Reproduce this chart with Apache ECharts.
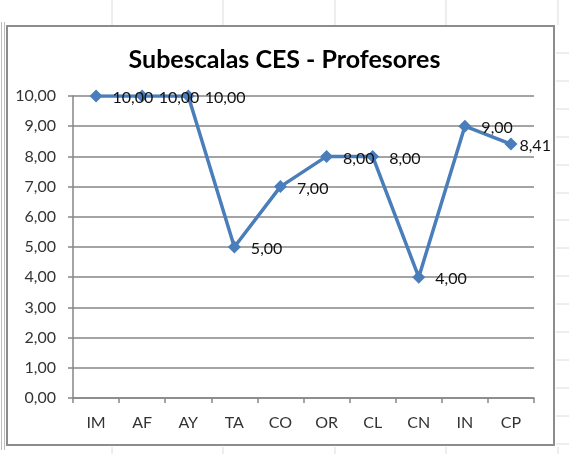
<!DOCTYPE html>
<html>
<head>
<meta charset="UTF-8">
<script src="https://cdn.jsdelivr.net/npm/echarts@6/dist/echarts.min.js"></script>
<style>
body { margin:0; padding:0; background:#fff; }
#chart { width:569px; height:454px; }
</style>
</head>
<body><div id="chart"></div>
<script>
// data
var categories = ['IM', 'AF', 'AY', 'TA', 'CO', 'OR', 'CL', 'CN', 'IN', 'CP'];
var scores = [10, 10, 10, 5, 7, 8, 8, 4, 9, 8.41];
var yTicks = [0, 1, 2, 3, 4, 5, 6, 7, 8, 9, 10];

var fmt = function (v) { return v.toFixed(2).replace('.', ','); };

// spreadsheet cell lines behind the chart (decoration only)
var cellLines = [];
[112, 223, 335, 446, 558].forEach(function (x) {
  cellLines.push({ type: 'line', shape: { x1: x, y1: 0, x2: x, y2: 25 }, style: { stroke: '#dcdcdc', lineWidth: 1 }, z: -10 });
  cellLines.push({ type: 'line', shape: { x1: x, y1: 447, x2: x, y2: 454 }, style: { stroke: '#dcdcdc', lineWidth: 1 }, z: -10 });
});
for (var y = 53; y < 454; y += 27.9) {
  cellLines.push({ type: 'line', shape: { x1: 556, y1: Math.round(y), x2: 569, y2: Math.round(y) }, style: { stroke: '#dcdcdc', lineWidth: 1 }, z: -10 });
}

// last label sits tight against its marker, like the original
var points = scores.map(function (v, i) {
  if (i === scores.length - 1) return { value: v, label: { distance: 2 } };
  return v;
});

var c = echarts.init(document.getElementById('chart'));
c.setOption({
  animation: false,
  backgroundColor: '#fff',
  title: {
    text: 'Subescalas CES - Profesores',
    left: 'center',
    top: 42,
    textStyle: { fontFamily: 'Lato', fontWeight: 'bold', fontSize: 25, color: '#000' }
  },
  graphic: cellLines.concat([
    { type: 'rect', shape: { x: 7, y: 26, width: 547, height: 419 }, style: { fill: 'none', stroke: '#8c8c8c', lineWidth: 2 }, z: 10 },
    { type: 'line', shape: { x1: 1.5, y1: 22, x2: 1.5, y2: 450 }, style: { stroke: '#bdbdbd', lineWidth: 1 }, z: 10 },
    { type: 'line', shape: { x1: 4.5, y1: 22, x2: 4.5, y2: 450 }, style: { stroke: '#bdbdbd', lineWidth: 1 }, z: 10 }
  ]),
  grid: { left: 73, right: 35, top: 96, bottom: 56 },
  xAxis: {
    type: 'category',
    data: categories,
    boundaryGap: true,
    axisLine: { lineStyle: { color: '#868686', width: 1.5 } },
    axisTick: { show: true, length: 5, interval: 0, lineStyle: { color: '#868686', width: 1.5 } },
    axisLabel: { margin: 17, fontFamily: 'Lato', fontSize: 16, color: '#333' }
  },
  yAxis: {
    type: 'value',
    min: yTicks[0],
    max: yTicks[yTicks.length - 1],
    interval: 1,
    axisLine: { show: true, lineStyle: { color: '#868686', width: 1.5 } },
    axisTick: { show: true, length: 5, lineStyle: { color: '#868686', width: 1.5 } },
    splitLine: { lineStyle: { color: '#868686', width: 1.5 } },
    axisLabel: { margin: 17, fontFamily: 'Lato', fontSize: 16, color: '#333', formatter: fmt }
  },
  series: [{
    type: 'line',
    data: points,
    symbol: 'diamond',
    symbolSize: 13,
    lineStyle: { color: '#4a7ebb', width: 3.5 },
    itemStyle: { color: '#4a7ebb' },
    label: {
      show: true,
      position: 'right',
      distance: 10,
      offset: [0, 2],
      fontFamily: 'Lato',
      fontSize: 16,
      color: '#111',
      formatter: function (p) { return fmt(p.value); }
    }
  }]
});
</script>
</body></html>
